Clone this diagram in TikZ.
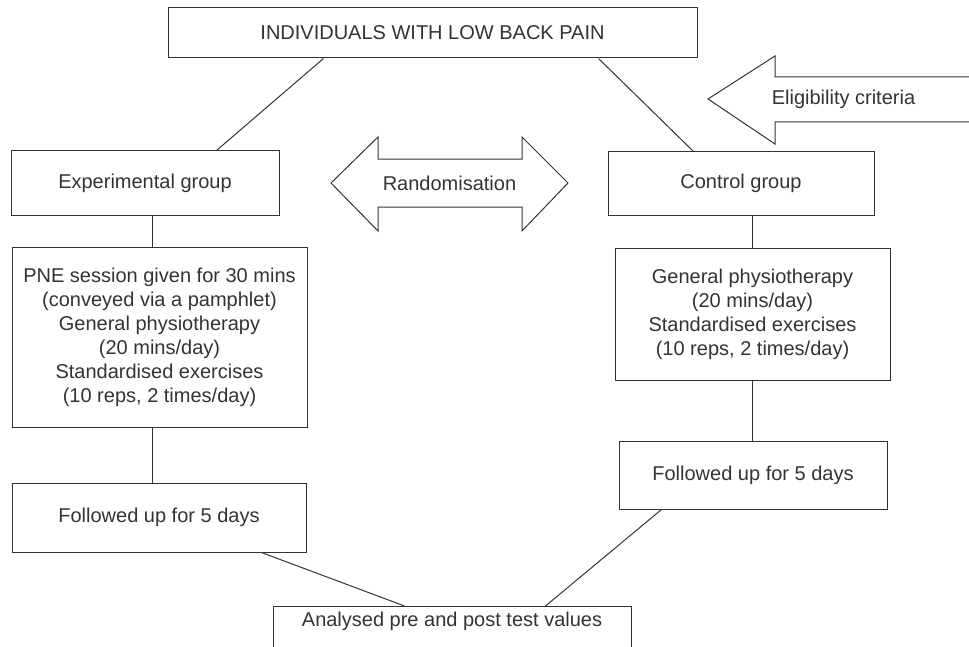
\documentclass[tikz,border=0pt]{standalone}
\usepackage{fontspec}
\setmainfont{Liberation Sans}
\usepackage{tikz}
\usetikzlibrary{positioning}
\definecolor{darkgrey}{rgb}{0.2, 0.2, 0.2}

\begin{document}
\begin{tikzpicture}[x=0.5pt,y=-0.5pt]
\tikzstyle{box}=[rectangle, draw=darkgrey, line width=0.5pt, align=center, text=darkgrey, font=\fontsize{10}{12}\selectfont, inner sep=0pt]
\tikzstyle{label}=[text=darkgrey, font=\fontsize{10}{12}\selectfont, inner sep=0pt]
\tikzstyle{bigarrow}=[draw=darkgrey, line width=0.5pt, line join=miter]
\tikzstyle{connect}=[color=darkgrey, line width=0.5pt]
\useasboundingbox (0,0) rectangle (969,647);
	\node[box, minimum width=264.5pt, minimum height=25pt] (lbp) at (432.5,33) {INDIVIDUALS WITH LOW BACK PAIN};
	\node[box, minimum width=134pt, minimum height=32pt] (exp) at (145,183) {Experimental group};
	\node[box, minimum width=133pt, minimum height=31.5pt] (ctrl) at (741,183.5) {Control group};
	\node[box, minimum width=147.5pt, minimum height=90pt] (pne) at (159.5,337) {PNE session given for 30 mins\\(conveyed via a pamphlet)\\General physiotherapy\\(20 mins/day)\\Standardised exercises\\(10 reps, 2 times/day)};
	\node[box, minimum width=137.5pt, minimum height=66pt] (physio) at (752.5,314) {General physiotherapy\\(20 mins/day)\\Standardised exercises\\(10 reps, 2 times/day)};
	\node[box, minimum width=147pt, minimum height=34.5pt] (follow_exp) at (159,517.5) {Followed up for 5 days};
	\node[box, minimum width=134pt, minimum height=34pt] (follow_ctrl) at (753,475) {Followed up for 5 days};
	\node[box, minimum width=179pt, anchor=north, inner ysep=3pt, text depth=30pt] (analysed) at (452,606) {Analysed pre and post test values};

	% big arrows
	\draw[bigarrow] (331,183) -- (378,137) -- (378,159) -- (522,159) -- (522,137) -- (568,183)
		-- (522,231) -- (522,207) -- (378,207) -- (378,231) -- cycle;
	\node[label] (rand) at (449.5,183) {Randomisation};
	\draw[bigarrow] (708,99) -- (775,56) -- (775,77) -- (995,77) -- (995,122) -- (775,122) -- (775,144) -- cycle;
	\node[label] (elig) at (843.5,99) {Eligibility criteria};

	\path[connect]
		([xshift=78pt]lbp.south west) edge [] ([xshift=103pt]exp.north west)
		([xshift=215.5pt]lbp.south west) edge [] ([xshift=43pt]ctrl.north west)
		([xshift=71pt]exp.south west) edge [] ([xshift=70.5pt]pne.north west)
		([xshift=70.5pt]pne.south west) edge [] ([xshift=70.5pt]follow_exp.north west)
		([xshift=72.5pt]ctrl.south west) edge [] ([xshift=69pt]physio.north west)
		([xshift=69pt]physio.south west) edge [] ([xshift=67pt]follow_ctrl.north west)
		([xshift=125pt]follow_exp.south west) edge [] ([xshift=66pt]analysed.north west)
		([xshift=21.5pt]follow_ctrl.south west) edge [] ([xshift=136.5pt]analysed.north west);

\end{tikzpicture}
\end{document}
